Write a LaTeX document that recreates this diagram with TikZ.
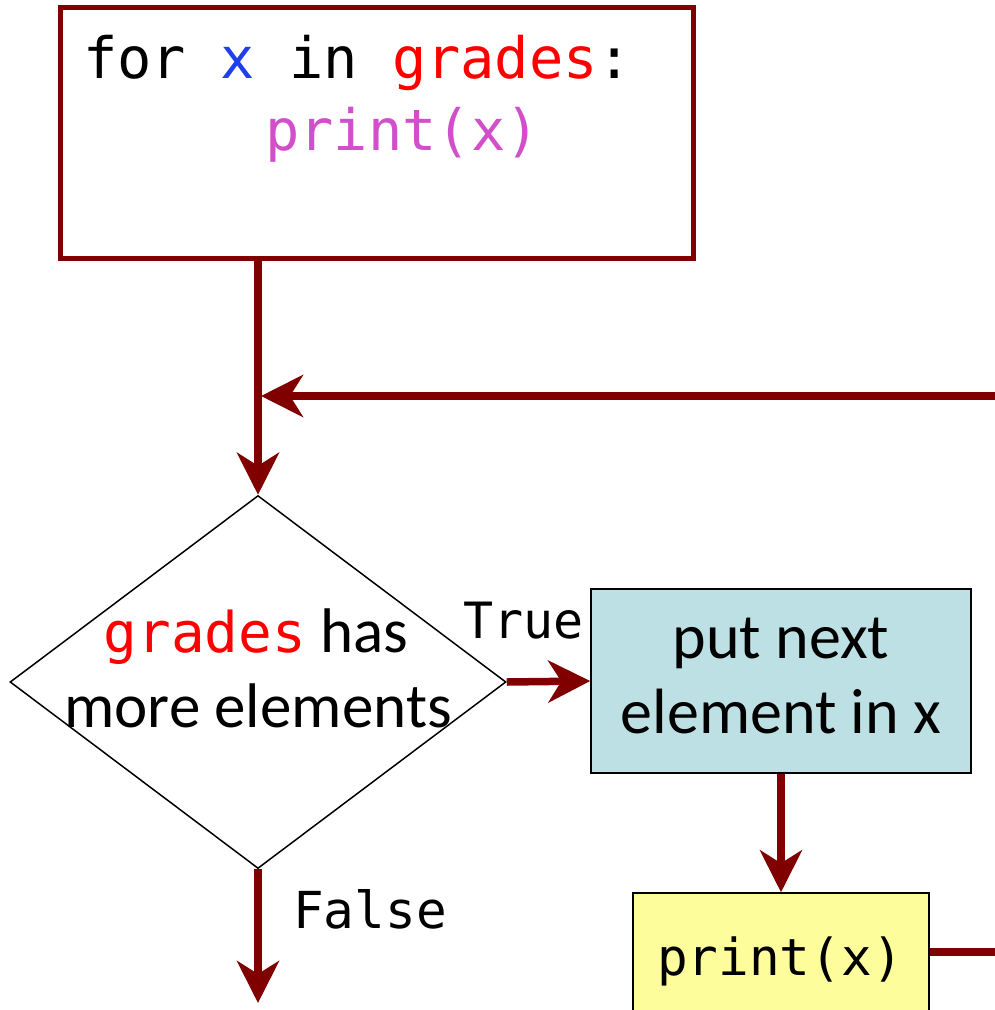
\documentclass[tikz,border=0pt]{standalone}
\usepackage{fontspec}
\setmainfont{Carlito}
\newfontfamily\codefont{DejaVu Sans Mono}
\usetikzlibrary{arrows.meta,shapes.geometric}
\definecolor{loopred}{HTML}{800000}
\definecolor{varblue}{HTML}{1F3FEF}
\definecolor{listred}{HTML}{FF0000}
\definecolor{callpink}{HTML}{D24FCB}
\definecolor{stepfill}{HTML}{BCE0E3}
\definecolor{printfill}{HTML}{FEFD9B}
\begin{document}
\begin{tikzpicture}[x=1pt,y=-1pt,
  flow/.style={draw=loopred,line width=7.5pt,-{Stealth[length=42pt,width=42pt,inset=13pt]}},
  plainflow/.style={draw=loopred,line width=7.5pt},
  stepbox/.style={draw=black,line width=1.5pt,inner sep=0pt},
  txt/.style={inner sep=0pt,anchor=base},
  codetxt/.style={inner sep=0pt,anchor=base west}]
\useasboundingbox (0,0) rectangle (995,1010);

% the for-loop source code
\node[draw=loopred,line width=5.5pt,minimum width=633pt,minimum height=251pt,inner sep=0pt] (forbox) at (377,133) {};
\node[codetxt] (line1) at (83,78) {\fontsize{57}{72}\codefont for {\color{varblue}x} in {\color{listred}grades}:};
\node[codetxt] (line2) at (265,150) {\fontsize{57}{72}\codefont\color{callpink}print(x)};

% loop test
\node[shape=diamond,draw=black,line width=1.5pt,minimum width=496pt,minimum height=373pt,inner sep=0pt] (test) at (258,682) {};
\node[txt] (testA) at (256,652) {\fontsize{63}{75}\selectfont{\fontsize{56}{75}\codefont\color{listred}grades} has};
\node[txt] (testB) at (258,727) {\fontsize{63}{75}\selectfont more elements};

% loop body
\node[stepbox,fill=stepfill,minimum width=380pt,minimum height=184pt] (next) at (781,681) {};
\node[txt] (nextA) at (781,658) {\fontsize{64}{75}\selectfont put next};
\node[txt] (nextB) at (781,733) {\fontsize{64}{75}\selectfont element in x};

\node[stepbox,fill=printfill,minimum width=296pt,minimum height=118pt] (body) at (781,952) {};
\node[txt] (bodyT) at (780,975) {\fontsize{51}{60}\codefont print(x)};

% edge labels
\node[codetxt] (lblT) at (463,638) {\fontsize{50}{60}\codefont True};
\node[codetxt] (lblF) at (293,928) {\fontsize{51}{60}\codefont False};

% connectors
\coordinate (back) at (995,396);
\coordinate (bodyout) at (995,952);
\coordinate (exit) at (258,1003);
\draw[plainflow] (forbox.south -| test.north) -- (back -| test.north);
\draw[flow] (back -| test.north) -- (test.north);
\draw[flow] (back) -- ([xshift=3pt]back -| test.north);
\draw[flow] (test.east) -- (next.west);
\draw[flow] (next.south) -- (body.north);
\draw[plainflow] (body.east) -- (bodyout);
\draw[flow] (test.south) -- (exit);
\end{tikzpicture}
\end{document}
